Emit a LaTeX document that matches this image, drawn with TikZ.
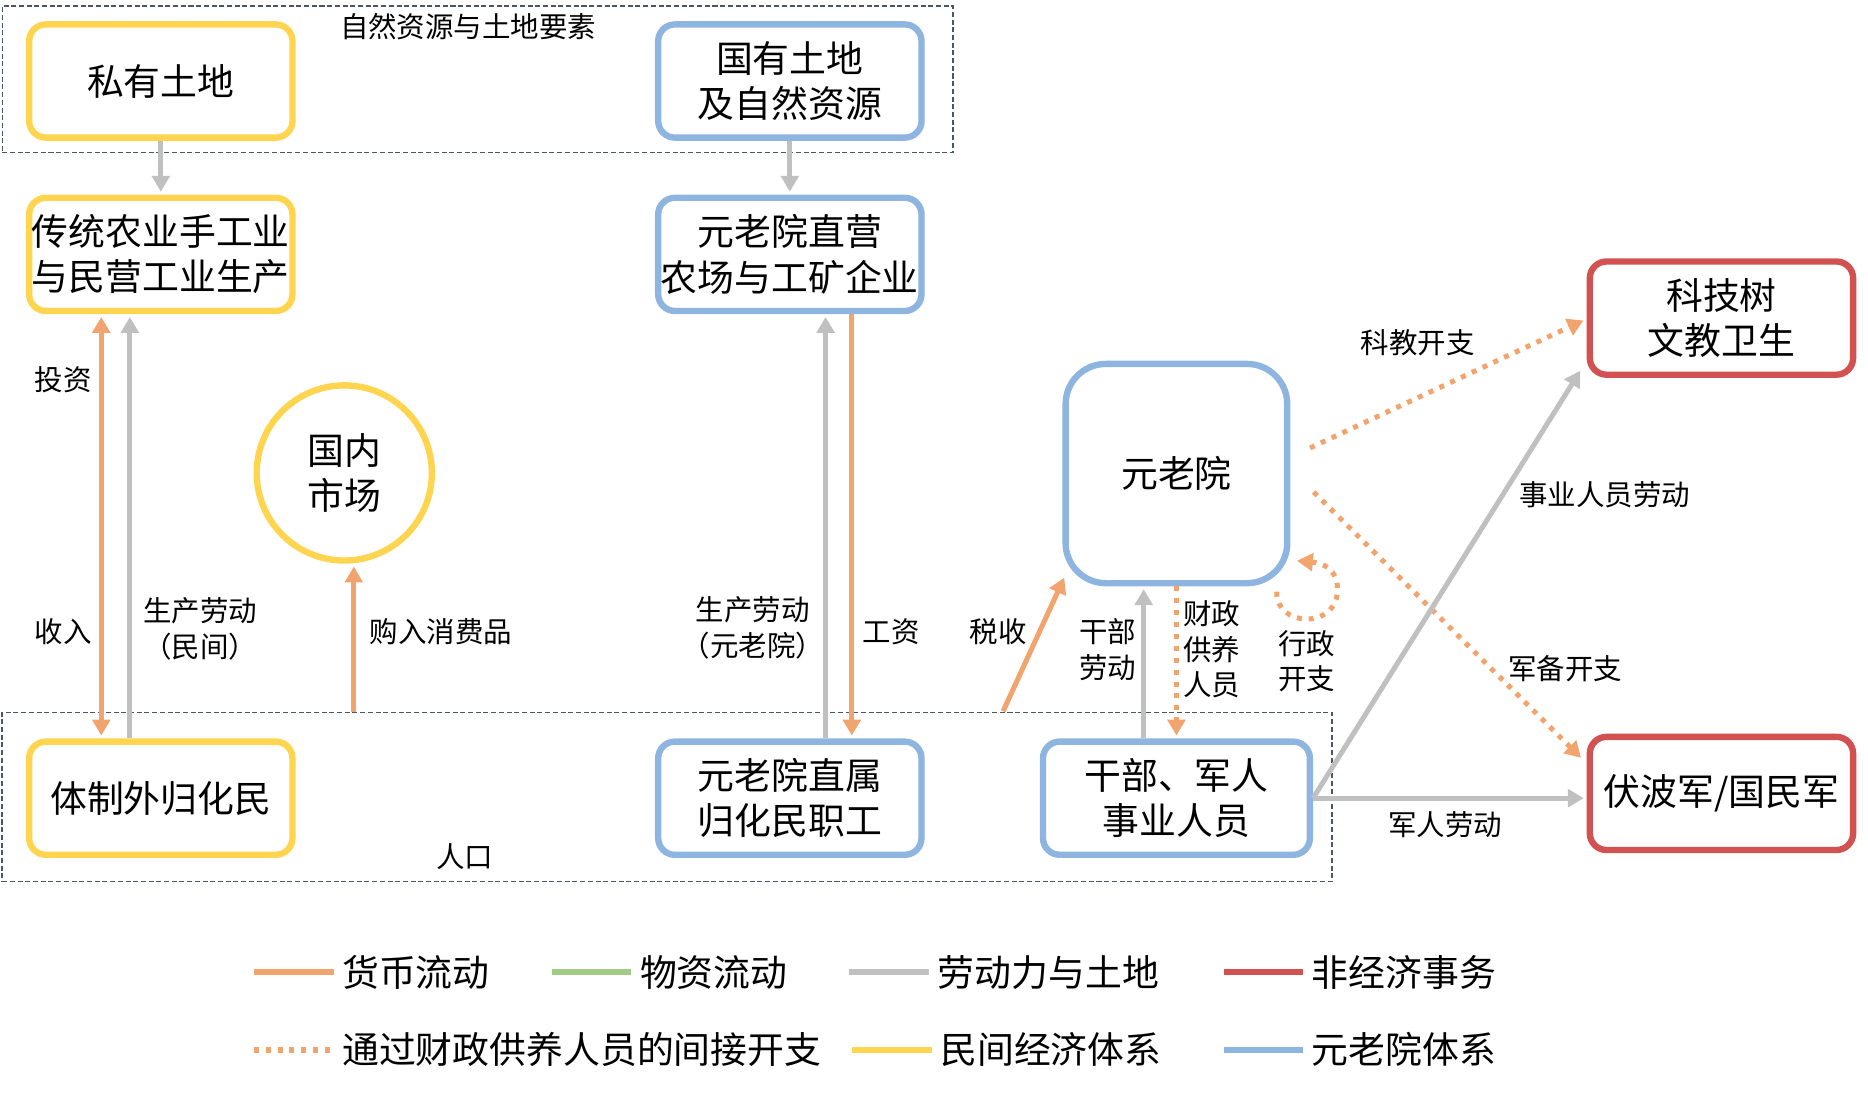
\documentclass[tikz,border=0pt]{standalone}
\usepackage{fontspec}
\setmainfont{Noto Sans CJK SC}
\usetikzlibrary{arrows.meta,calc}
\definecolor{cO}{HTML}{F2A46E}
\definecolor{cY}{HTML}{FFD44F}
\definecolor{cB}{HTML}{8EB5DF}
\definecolor{cR}{HTML}{D25252}
\definecolor{cG}{HTML}{C0C0C0}
\definecolor{cGr}{HTML}{A2CB86}
\definecolor{cD}{HTML}{4B5563}
\begin{document}
\begin{tikzpicture}[x=0.025cm,y=-0.025cm,
  box/.style={draw, line width=3.8pt, rounded corners=10pt, fill=white,
    minimum width=5.525cm, minimum height=2.375cm, align=center,
    inner sep=0pt, font=\fontsize{22}{27}\selectfont},
  dbox/.style={draw=cD, line width=0.9pt, dash pattern=on 3pt off 1.6pt,
    inner sep=0pt},
  lab/.style={font=\fontsize{17}{21.3}\selectfont, align=center, inner sep=0pt},
  legt/.style={font=\fontsize{22}{26}\selectfont, anchor=west, inner sep=0pt},
  tip/.style={-{Triangle[length=9.5pt,width=10.5pt]}},
  oarr/.style={draw=cO, line width=3pt, tip, shorten >=1.7pt},
  garr/.style={draw=cG, line width=3pt, tip, shorten >=1.7pt},
  odot/.style={draw=cO, line width=3pt, dash pattern=on 3pt off 4.1pt, tip, shorten >=1.7pt},
  legl/.style={line width=3.6pt},
]
\useasboundingbox (0,0) rectangle (1568,920);

% group frames
\node[dbox, minimum width=19.95cm, minimum height=3.075cm] (res) at (401,66.5) {};
\node[dbox, minimum width=27.9cm, minimum height=3.55cm] (pop) at (560,669) {};
\node[lab] (resl) at (393,22) {自然资源与土地要素};
\node[lab] (popl) at (390,719) {人口};

% boxes
\node[box, draw=cY] (priv) at (135,68) {私有土地};
\node[box, draw=cB] (state) at (663,68) {国有土地\\及自然资源};
\node[box, draw=cY] (trad) at (135,213.5) {传统农业手工业\\与民营工业生产};
\node[box, draw=cB] (farm) at (663,213.5) {元老院直营\\农场与工矿企业};
\node[box, draw=cY] (outside) at (135,670) {体制外归化民};
\node[box, draw=cB] (staff) at (663,670) {元老院直属\\归化民职工};
\node[box, draw=cB, minimum width=5.6cm] (cadre) at (987.5,670) {干部、军人\\事业人员};
\node[box, draw=cB, minimum width=4.65cm, minimum height=4.6cm, rounded corners=24pt] (senate) at (987.5,397.5) {元老院};
\node[box, draw=cR] (sci) at (1445,267) {科技树\\文教卫生};
\node[box, draw=cR] (army) at (1445,666) {伏波军/国民军};
\node[circle, draw=cY, line width=3.8pt, minimum size=3.675cm, align=center,
  inner sep=0pt, font=\fontsize{22}{26.5}\selectfont] (market) at (289,397) {国内\\市场};

% land
\draw[garr] (priv) -- (trad);
\draw[garr] (state) -- (farm);

% private economy
\draw[draw=cO, line width=3pt, {Triangle[length=9.5pt,width=10.5pt]}-{Triangle[length=9.5pt,width=10.5pt]}, shorten >=1.7pt, shorten <=1.7pt]
  ([shift={(-50,0)}]trad.south) -- ([shift={(-50,0)}]outside.north);
\draw[garr] ([shift={(-26,0)}]outside.north) -- ([shift={(-26,0)}]trad.south);
\node[lab] (l1) at (53,319) {投资};
\node[lab] (l2) at (53,530) {收入};
\node[lab] (l3) at (168,528) {生产劳动\\（民间）};

\coordinate (mkt) at ([shift={(8,0)}]market.south);
\draw[oarr] (mkt |- pop.north) -- (mkt);
\node[lab] (l4) at (370,530) {购入消费品};

% senate enterprises
\coordinate (f1) at ([shift={(30,0)}]farm.south);
\coordinate (f2) at ([shift={(52,0)}]farm.south);
\draw[garr] (f1 |- staff.north) -- (f1);
\draw[oarr] (f2) -- (f2 |- staff.north);
\node[lab] (l5) at (632,527) {生产劳动\\（元老院）};
\node[lab] (l6) at (748,530) {工资};

% senate
\coordinate (taxA) at (842,597);
\draw[oarr] (taxA) -- ([shift={(2.5,-9.5)}]senate.south west);
\node[lab] (l7) at (838,530) {税收};

\coordinate (c1) at ([shift={(-27.5,0)}]cadre.north);
\draw[garr] (c1) -- (c1 |- senate.south);
\node[lab] (l8) at (930,545) {干部\\劳动};
\draw[odot] (senate.south) -- (cadre.north);
\node[lab] (l9) at (1017,545) {财政\\供养\\人员};

\coordinate (lpA) at ([shift={(-11.5,4.5)}]senate.south east);
\coordinate (lpB) at ([shift={(5.5,-21.5)}]senate.south east);
\draw[odot, shorten >=0pt] (lpA) .. controls ($(lpA)+(-1,30)$) and ($(lpA)+(51,32)$) .. ($(lpA)+(51,-2)$)
  .. controls ($(lpA)+(51,-19)$) and ($(lpA)+(39,-24)$) .. (lpB);
\node[lab] (l10) at (1097,555) {行政\\开支};

\draw[odot] ([shift={(16.5,-21.5)}]senate.east) -- ([shift={(-0.5,1)}]sci.west);
\node[lab] (l11) at (1190,288) {科教开支};
\draw[odot] ([shift={(19.5,15.5)}]senate.east) -- ([shift={(-3,22)}]army.north west);
\node[lab] (l12) at (1314,561) {军备开支};

\draw[garr] (cadre.east) -- ([shift={(-4,-8)}]sci.south west);
\node[lab] (l13) at (1347,415) {事业人员劳动};
\draw[garr] (cadre.east) -- (cadre.east -| army.west);
\node[lab] (l14) at (1213,692) {军人劳动};

% legend
\draw[legl, cO] (213,816) coordinate (g1a) -- (280,816) coordinate (g1b);
\node[legt] (t1) at (287,816) {货币流动};
\draw[legl, cGr] (463,816) coordinate (g2a) -- (530,816) coordinate (g2b);
\node[legt] (t2) at (537,816) {物资流动};
\draw[legl, cG] (713,816) coordinate (g3a) -- (780,816) coordinate (g3b);
\node[legt] (t3) at (787,816) {劳动力与土地};
\draw[legl, cR] (1027,816) coordinate (g4a) -- (1094,816) coordinate (g4b);
\node[legt] (t4) at (1101,816) {非经济事务};
\draw[legl, cO, dash pattern=on 3pt off 4.1pt] (213,881) coordinate (g5a) -- (280,881) coordinate (g5b);
\node[legt] (t5) at (287,881) {通过财政供养人员的间接开支};
\draw[legl, cY] (715,881) coordinate (g6a) -- (782,881) coordinate (g6b);
\node[legt] (t6) at (789,881) {民间经济体系};
\draw[legl, cB] (1027,881) coordinate (g7a) -- (1094,881) coordinate (g7b);
\node[legt] (t7) at (1101,881) {元老院体系};
\end{tikzpicture}
\end{document}
